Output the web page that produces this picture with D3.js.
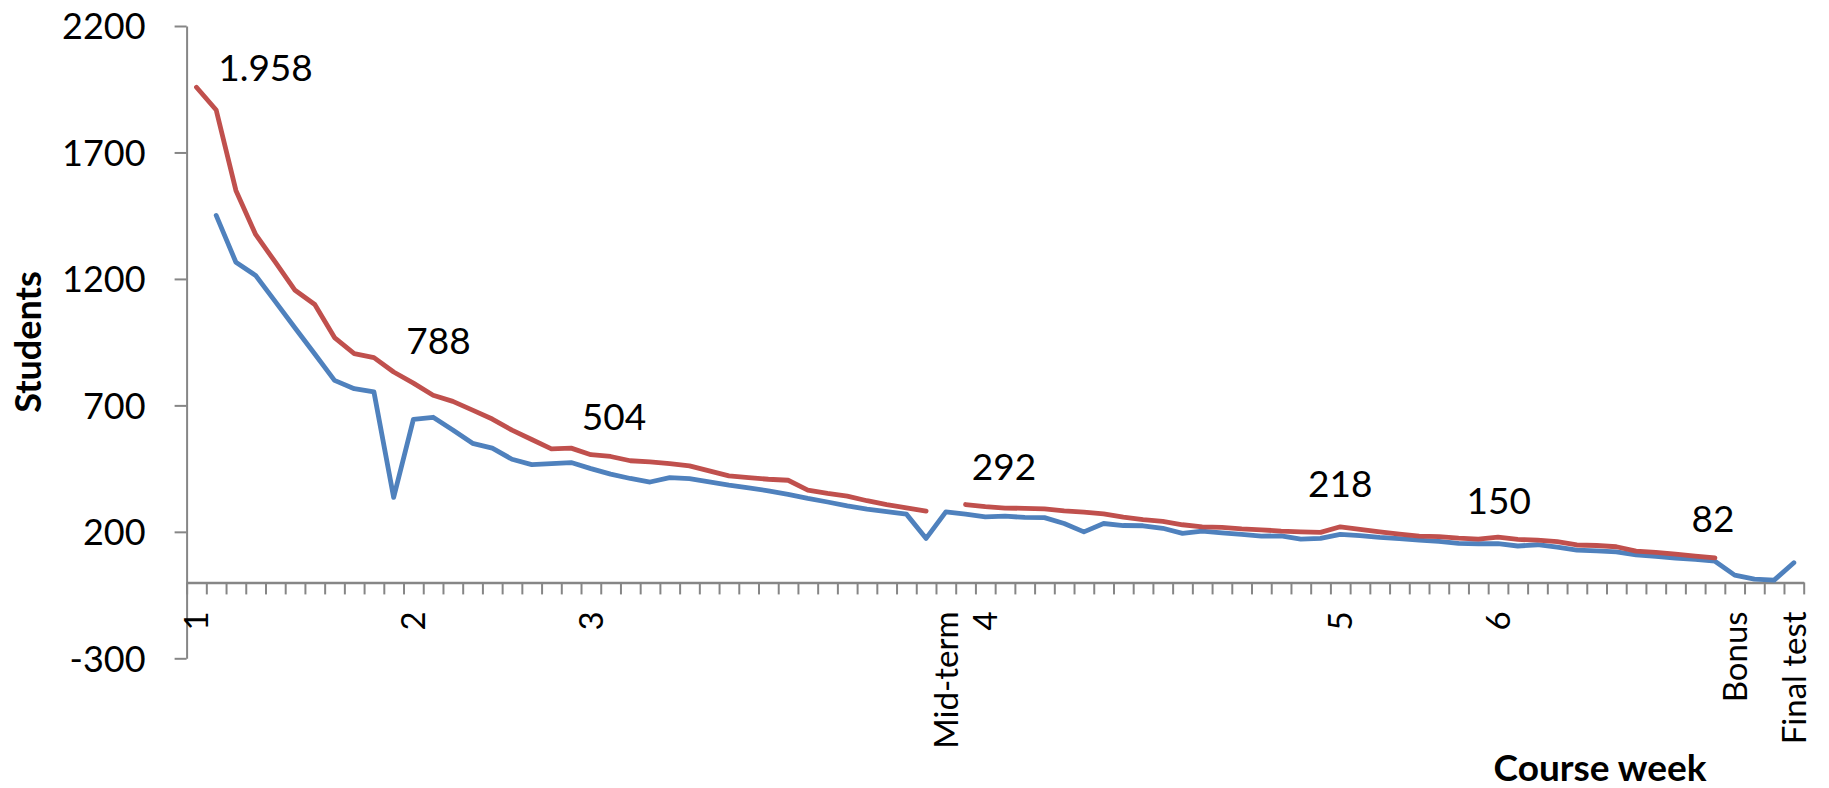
<!DOCTYPE html>
<html>
<head>
<meta charset="utf-8">
<script src="https://cdn.jsdelivr.net/npm/d3@7"></script>
<style>
  html, body { margin: 0; padding: 0; background: #ffffff; }
  svg { display: block; }
  text { font-family: Lato, "Open Sans", sans-serif; fill: #000; }
</style>
</head>
<body>
<svg id="chart" width="1829" height="788"></svg>
<script>
// ---- data ----
const categories = ["1","","","","","","","","","","","2","","","","","","","","","3","","","","","","","","","","","","","","","","","","Mid-term","","4","","","","","","","","","","","","","","","","","","5","","","","","","","","6","","","","","","","","","","","","Bonus","","","Final test"];

const seriesRed = [1958,1868,1550,1376,1266,1155,1099,968,905,889,832,788,740,716,681,646,602,565,528,531,505,498,481,477,470,461,441,421,414,408,404,365,352,341,323,308,295,282,null,308,300,294,293,291,283,278,271,258,248,241,228,220,218,212,208,203,200,198,220,210,200,191,183,181,175,171,179,170,167,161,148,146,141,124,119,112,104,97];

const seriesBlue = [null,1451,1266,1214,1110,1006,903,799,766,753,336,645,653,603,550,531,487,466,470,474,450,428,411,397,414,410,398,385,374,362,348,332,318,303,290,280,270,174,279,270,259,262,257,256,233,200,233,225,224,214,194,203,196,190,183,184,171,174,190,185,178,173,167,162,154,153,153,144,149,140,128,125,121,109,103,96,91,84,29,13,9,78];

const yTickValues = [-300, 200, 700, 1200, 1700, 2200];

const labelTexts = ["1.958","788","504","292","218","150","82"];
const labelIdx   = [3.5, 12.27, 21.17, 40.95, 58.0, 66.04, 76.9];
const labelVals  = [2036, 957, 654, 457, 391, 325, 253];

// ---- layout ----
const svg = d3.select("#chart");
const X0 = 186.6, X1 = 1803.7;
const n = categories.length;
const x = d3.scaleLinear().domain([-0.5, n - 0.5]).range([X0, X1]);
const y = d3.scaleLinear().domain([-300, 2200]).range([658.3, 26]);
const axisColor = "#868686";

// y axis
const yAxis = d3.axisLeft(y).tickValues(yTickValues).tickSize(12).tickSizeOuter(0).tickPadding(29)
  .tickFormat(d => (d < 0 ? "-" : "") + Math.abs(d));
const gy = svg.append("g").attr("transform", `translate(${X0},0)`).call(yAxis);
gy.select(".domain").attr("stroke", axisColor).attr("stroke-width", 2);
gy.selectAll(".tick line").attr("stroke", axisColor).attr("stroke-width", 2);
gy.selectAll(".tick text").style("font-size", "36px").attr("fill", "#000").attr("dy", "0.36em");

// x axis at y=0 with boundary ticks
const boundaries = d3.range(n + 1).map(k => k - 0.5);
const xAxis = d3.axisBottom(x).tickValues(boundaries).tickSize(12).tickSizeOuter(0).tickFormat("");
const gx = svg.append("g").attr("transform", `translate(0,${y(0)})`).call(xAxis);
gx.select(".domain").attr("stroke", axisColor).attr("stroke-width", 2.5);
gx.selectAll(".tick line").attr("stroke", axisColor).attr("stroke-width", 2);

// category labels (rotated)
svg.append("g").selectAll("text")
  .data(categories.map((c, i) => ({c, i})).filter(d => d.c !== ""))
  .join("text")
  .attr("transform", d => `translate(${x(d.i)},${y(0) + 29}) rotate(-90)`)
  .attr("text-anchor", "end")
  .attr("dy", "0.36em")
  .style("font-size", "33px")
  .text(d => d.c);

// lines
const line = d3.line()
  .defined(d => d.v !== null)
  .x(d => x(d.i))
  .y(d => y(d.v));

svg.append("path")
  .datum(seriesBlue.map((v, i) => ({i, v})))
  .attr("fill", "none").attr("stroke", "#4F81BD").attr("stroke-width", 4.8)
  .attr("stroke-linejoin", "round").attr("stroke-linecap", "round")
  .attr("d", line);

svg.append("path")
  .datum(seriesRed.map((v, i) => ({i, v})))
  .attr("fill", "none").attr("stroke", "#C0504D").attr("stroke-width", 4.8)
  .attr("stroke-linejoin", "round").attr("stroke-linecap", "round")
  .attr("d", line);

// data labels
svg.append("g").selectAll("text")
  .data(labelTexts.map((t, k) => ({t, i: labelIdx[k], v: labelVals[k]})))
  .join("text")
  .attr("x", d => x(d.i))
  .attr("y", d => y(d.v))
  .attr("dy", "0.36em")
  .attr("text-anchor", "middle")
  .style("font-size", "37px")
  .text(d => d.t);

// axis titles
svg.append("text")
  .attr("transform", "translate(41,342) rotate(-90)")
  .attr("text-anchor", "middle")
  .style("font-size", "36px").style("font-weight", "bold")
  .text("Students");

svg.append("text")
  .attr("x", 1600).attr("y", 781)
  .attr("text-anchor", "middle")
  .style("font-size", "37px").style("font-weight", "bold")
  .text("Course week");
</script>
</body>
</html>
